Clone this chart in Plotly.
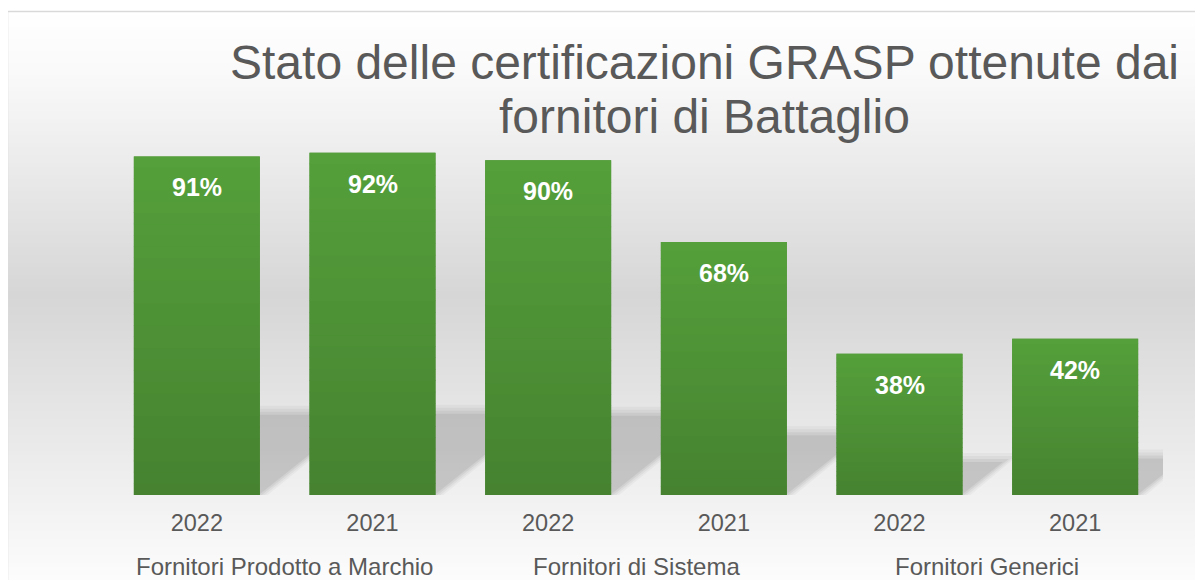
import plotly.graph_objects as go

# ---------------- data ----------------
groups = ["Fornitori Prodotto a Marchio", "Fornitori Prodotto a Marchio",
          "Fornitori di Sistema", "Fornitori di Sistema",
          "Fornitori Generici", "Fornitori Generici"]
years = ["2022", "2021", "2022", "2021", "2022", "2021"]
values = [91, 92, 90, 68, 38, 42]
group_names = ["Fornitori Prodotto a Marchio", "Fornitori di Sistema", "Fornitori Generici"]
title_lines = ["Stato delle certificazioni GRASP ottenute dai", "fornitori di Battaglio"]

# ---------------- layout geometry ----------------
OFF = 8                      # page margin of the html body
W, H = 1203 - OFF, 580 - OFF
L, R, T, B = 101, 40, 3, 85
PW, PH = W - L - R, H - T - B
Y_MAX = 130.1
BARGAP = 0.283
FONT = "Liberation Sans, Arial, sans-serif"
TXT = "#595959"
BAR_TOP = (85, 160, 59)
BAR_BOTTOM = (70, 130, 48)

def px_x(sx):
    """screen x -> paper x"""
    return (sx - OFF - L) / PW

def px_y(sy):
    """screen y -> paper y"""
    return (H - B - (sy - OFF)) / PH

xs = list(range(len(values)))
unit_x = PW / len(values)       # px per category
unit_y = PH / Y_MAX             # px per percent

shapes = []

# background gradient (white -> grey -> white), screen-y stops
stops = [(11, 255), (70, 250), (296, 214), (580, 252)]
def grey_at(sy):
    for (a, ca), (b, cb) in zip(stops[:-1], stops[1:]):
        if a <= sy <= b:
            return ca + (cb - ca) * (sy - a) / (b - a)
    return stops[-1][1]

step = 4
sy = 11
while sy < 600:
    c = int(round(grey_at(min(sy + step / 2, 580))))
    shapes.append(dict(type="rect", xref="paper", yref="paper", layer="below",
                       x0=px_x(7), x1=px_x(1230), y0=px_y(sy), y1=px_y(sy + step + 0.6),
                       fillcolor=f"rgb({c},{c},{c})", line=dict(width=0)))
    sy += step

# chart frame
shapes.append(dict(type="rect", xref="paper", yref="paper", layer="below",
                   x0=px_x(7.5), x1=px_x(1240), y0=px_y(11.5), y1=px_y(620),
                   fillcolor="rgba(0,0,0,0)", line=dict(color="#d9d9d9", width=1.5)))

# soft perspective shadows behind the bars
half = (1 - BARGAP) / 2
for x, v in zip(xs, values):
    h_px = 0.24 * v * unit_y
    for grow, alpha in [(8, 0.03), (5, 0.04), (2, 0.05), (-1, 0.06)]:
        hh = (h_px + grow) / unit_y
        dx = (1.25 * h_px + grow) / unit_x
        x0 = x - half
        x1 = x + half + grow / unit_x
        path = f"M {x0},0 L {x1},0 L {x1 + dx},{hh} L {x0 + dx},{hh} Z"
        shapes.append(dict(type="path", xref="x", yref="y", layer="below", path=path,
                           fillcolor=f"rgba(0,0,0,{alpha})", line=dict(width=0)))

# vertical colour gradient laid over each bar (lighter at the top)
N = 30
for x, v in zip(xs, values):
    for k in range(N):
        t = (k + 0.5) / N
        col = tuple(int(round(b + (tp - b) * t)) for b, tp in zip(BAR_BOTTOM, BAR_TOP))
        y0 = v * k / N
        y1 = min(v, v * (k + 1) / N + 0.15)
        shapes.append(dict(type="rect", xref="x", yref="y", layer="above",
                           x0=x - half, x1=x + half, y0=y0, y1=y1,
                           fillcolor=f"rgb{col}", line=dict(width=0)))

fig = go.Figure()
fig.add_trace(go.Bar(
    x=xs, y=values,
    marker=dict(color="#4c8f35", line=dict(width=0)),
    hovertext=[f"{g} {y}" for g, y in zip(groups, years)],
))

annotations = []
# data labels
for x, v in zip(xs, values):
    annotations.append(dict(x=x, y=v, xref="x", yref="y", text=f"<b>{v}%</b>",
                            showarrow=False, yanchor="middle", yshift=-31,
                            font=dict(family=FONT, size=25, color="white")))
# group labels
for g in group_names:
    idx = [i for i, gg in enumerate(groups) if gg == g]
    annotations.append(dict(x=sum(idx) / len(idx), y=px_y(566), xref="x", yref="paper",
                            text=g, showarrow=False, yanchor="middle",
                            font=dict(family=FONT, size=24, color=TXT)))
# title (two lines)
for line, cy in zip(title_lines, [63, 116]):
    annotations.append(dict(x=px_x(704), y=px_y(cy), xref="paper", yref="paper",
                            text=line, showarrow=False, xanchor="center", yanchor="middle",
                            font=dict(family=FONT, size=48, color=TXT)))

fig.update_layout(
    width=W, height=H,
    margin=dict(l=L, r=R, t=T, b=B, autoexpand=False),
    paper_bgcolor="white",
    plot_bgcolor="rgba(0,0,0,0)",
    bargap=BARGAP,
    showlegend=False,
    shapes=shapes,
    annotations=annotations,
    xaxis=dict(range=[-0.5, len(values) - 0.5], tickmode="array", tickvals=xs, ticktext=years,
               showgrid=False, zeroline=False, showline=False, ticks="",
               ticklabelstandoff=11,
               tickfont=dict(family=FONT, size=23.5, color=TXT), automargin=False),
    yaxis=dict(range=[0, Y_MAX], visible=False, showgrid=False, zeroline=False),
)

fig.write_html("out.html")
